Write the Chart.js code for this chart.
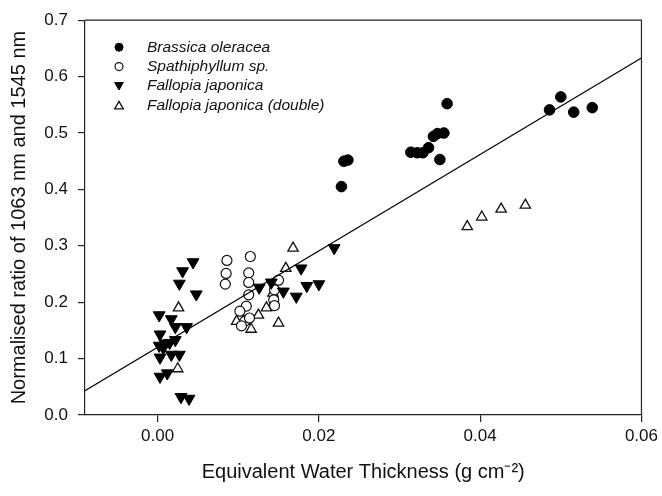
<!DOCTYPE html>
<html>
<head>
<meta charset="utf-8">
<script src="https://cdn.jsdelivr.net/npm/chart.js@4.4.0/dist/chart.umd.min.js"></script>
<style>
html,body{margin:0;padding:0;background:#fff;}
#wrap{width:662px;height:496px;position:relative;}
</style>
</head>
<body>
<div id="wrap"><canvas id="c"></canvas></div>
<script>
// ---- data ----
const seriesNames = ['Brassica oleracea', 'Spathiphyllum sp.', 'Fallopia japonica', 'Fallopia japonica (double)'];

const brassicaX = [0.0228, 0.0231, 0.0236, 0.0314, 0.0322, 0.0329, 0.0336, 0.0342, 0.0347, 0.0355, 0.0350, 0.0359, 0.0486, 0.0500, 0.0516, 0.0539];
const brassicaY = [0.405, 0.450, 0.452, 0.466, 0.465, 0.465, 0.474, 0.494, 0.499, 0.500, 0.453, 0.552, 0.541, 0.564, 0.537, 0.545];

const spathX = [0.0086, 0.0115, 0.0085, 0.0113, 0.0084, 0.0113, 0.0113, 0.0110, 0.0102, 0.0108, 0.0104, 0.0150, 0.0145, 0.0144, 0.0145, 0.0114];
const spathY = [0.274, 0.281, 0.251, 0.252, 0.232, 0.235, 0.213, 0.193, 0.184, 0.166, 0.158, 0.239, 0.222, 0.204, 0.194, 0.172];

const fallopiaX = [0.0044, 0.0031, 0.0027, 0.0048, 0.0002, 0.0017, 0.0022, 0.0036, 0.0003, 0.0002, 0.0009, 0.0015, 0.0022, 0.0003, 0.0017, 0.0027, 0.0012, 0.0003, 0.0029, 0.0039, 0.0007,
                   0.0126, 0.0141, 0.0156, 0.0172, 0.0185, 0.0200, 0.0178, 0.0219];
const fallopiaY = [0.271, 0.255, 0.233, 0.214, 0.177, 0.170, 0.156, 0.156, 0.143, 0.123, 0.127, 0.128, 0.133, 0.102, 0.107, 0.107, 0.074, 0.068, 0.032, 0.029, 0.119,
                   0.226, 0.235, 0.219, 0.210, 0.229, 0.232, 0.260, 0.296];

const doubleX = [0.0026, 0.0025, 0.0168, 0.0159, 0.0143, 0.0135, 0.0125, 0.0098, 0.0107, 0.0116, 0.0150, 0.0384, 0.0402, 0.0426, 0.0456];
const doubleY = [0.190, 0.082, 0.296, 0.260, 0.216, 0.190, 0.177, 0.166, 0.166, 0.152, 0.163, 0.334, 0.351, 0.365, 0.372];

const fitX = [-0.009, 0.06];
const fitY = [0.043, 0.633];

const xTicks = [0, 0.02, 0.04, 0.06];
const xTickLabels = ['0.00', '0.02', '0.04', '0.06'];
const yTicks = [0, 0.1, 0.2, 0.3, 0.4, 0.5, 0.6, 0.7];
const yTickLabels = ['0.0', '0.1', '0.2', '0.3', '0.4', '0.5', '0.6', '0.7'];
const xRange = [-0.009, 0.06];
const yRange = [0, 0.7];

const xTitle = 'Equivalent Water Thickness (g cm\u207B\u00B2)';
const yTitle = 'Normalised ratio of 1063 nm and 1545 nm';

// ---- build ----
const pts = (xs, ys) => xs.map((x, i) => ({x: x, y: ys[i]}));
const FONT = "'Liberation Sans', Arial, Helvetica, sans-serif";
Chart.defaults.font.family = FONT;
Chart.defaults.color = '#111';

const AXIS = '#222';

const frame = {
  id: 'frame',
  afterDraw(chart) {
    const {ctx, chartArea: a} = chart;
    ctx.save();
    ctx.strokeStyle = AXIS;
    ctx.lineWidth = 1.2;
    ctx.beginPath();
    ctx.moveTo(a.left, a.top);
    ctx.lineTo(a.right, a.top);
    ctx.lineTo(a.right, a.bottom);
    ctx.stroke();
    ctx.restore();
  }
};

const legendBox = {
  id: 'legendBox',
  afterDraw(chart) {
    const {ctx, chartArea: a} = chart;
    ctx.save();
    const x0 = a.left + 34, y0 = a.top + 27, dy = 19.4;
    seriesNames.forEach((name, i) => {
      const ds = chart.data.datasets[i];
      const y = y0 + i * dy;
      ctx.fillStyle = ds.pointBackgroundColor;
      ctx.strokeStyle = ds.pointBorderColor;
      ctx.lineWidth = ds.pointBorderWidth;
      const r = ds.pointStyle === 'triangle' ? 5 : 4;
      const opts = {pointStyle: ds.pointStyle, rotation: ds.pointRotation || 0, radius: r, borderWidth: ds.pointBorderWidth};
      const yy = ds.pointStyle === 'triangle' ? (ds.pointRotation ? y - 1 : y + 1) : y;
      Chart.helpers.drawPoint(ctx, opts, x0, yy);
      ctx.fillStyle = '#111';
      ctx.font = 'italic 15.5px ' + FONT;
      ctx.textBaseline = 'middle';
      ctx.textAlign = 'left';
      ctx.fillText(name, a.left + 62, y);
    });
    ctx.restore();
  }
};

new Chart(document.getElementById('c'), {
  type: 'scatter',
  data: {
    datasets: [
      {label: seriesNames[0], data: pts(brassicaX, brassicaY), pointStyle: 'circle', pointRadius: 5.3,
       pointBackgroundColor: '#000', pointBorderColor: '#000', pointBorderWidth: 1, order: 2},
      {label: seriesNames[1], data: pts(spathX, spathY), pointStyle: 'circle', pointRadius: 5,
       pointBackgroundColor: '#fff', pointBorderColor: '#111', pointBorderWidth: 1.2, order: 4},
      {label: seriesNames[2], data: pts(fallopiaX, fallopiaY), pointStyle: 'triangle', pointRotation: 180, pointRadius: 6.8,
       pointBackgroundColor: '#000', pointBorderColor: '#000', pointBorderWidth: 1, order: 3},
      {label: seriesNames[3], data: pts(doubleX, doubleY), pointStyle: 'triangle', pointRadius: 6,
       pointBackgroundColor: '#fff', pointBorderColor: '#111', pointBorderWidth: 1.3, order: 5},
      {type: 'line', label: 'fit', data: pts(fitX, fitY), borderColor: '#000', borderWidth: 1.2,
       pointRadius: 0, fill: false, showLine: true, order: 1}
    ]
  },
  options: {
    responsive: true,
    maintainAspectRatio: false,
    animation: false,
    events: [],
    layout: {padding: {left: 0, right: 20, top: 15, bottom: 0}},
    plugins: {legend: {display: false}, tooltip: {enabled: false}},
    scales: {
      x: {
        type: 'linear', min: xRange[0], max: xRange[1],
        afterBuildTicks: s => { s.ticks = xTicks.map(v => ({value: v})); },
        afterFit: s => { s.height = 81; },
        ticks: {callback: (v, i) => xTickLabels[i], font: {size: 17}, padding: 4, color: '#111', maxRotation: 0, autoSkip: false},
        grid: {display: true, drawOnChartArea: false, drawTicks: true, tickLength: 7, color: AXIS, lineWidth: 1.2},
        border: {display: true, color: AXIS, width: 1.2},
        title: {display: true, text: xTitle, font: {size: 20}, color: '#111', padding: {top: 0, bottom: 12}}
      },
      y: {
        type: 'linear', min: yRange[0], max: yRange[1],
        afterBuildTicks: s => { s.ticks = yTicks.map(v => ({value: v})); },
        afterFit: s => { s.width = 85; },
        ticks: {callback: (v, i) => yTickLabels[i], font: {size: 17}, padding: 10, color: '#111', autoSkip: false},
        grid: {display: true, drawOnChartArea: false, drawTicks: true, tickLength: 7, color: AXIS, lineWidth: 1.2},
        border: {display: true, color: AXIS, width: 1.2},
        title: {display: true, text: yTitle, font: {size: 20}, color: '#111', padding: {top: 7, bottom: 0}}
      }
    }
  },
  plugins: [frame, legendBox]
});
</script>
</body>
</html>
